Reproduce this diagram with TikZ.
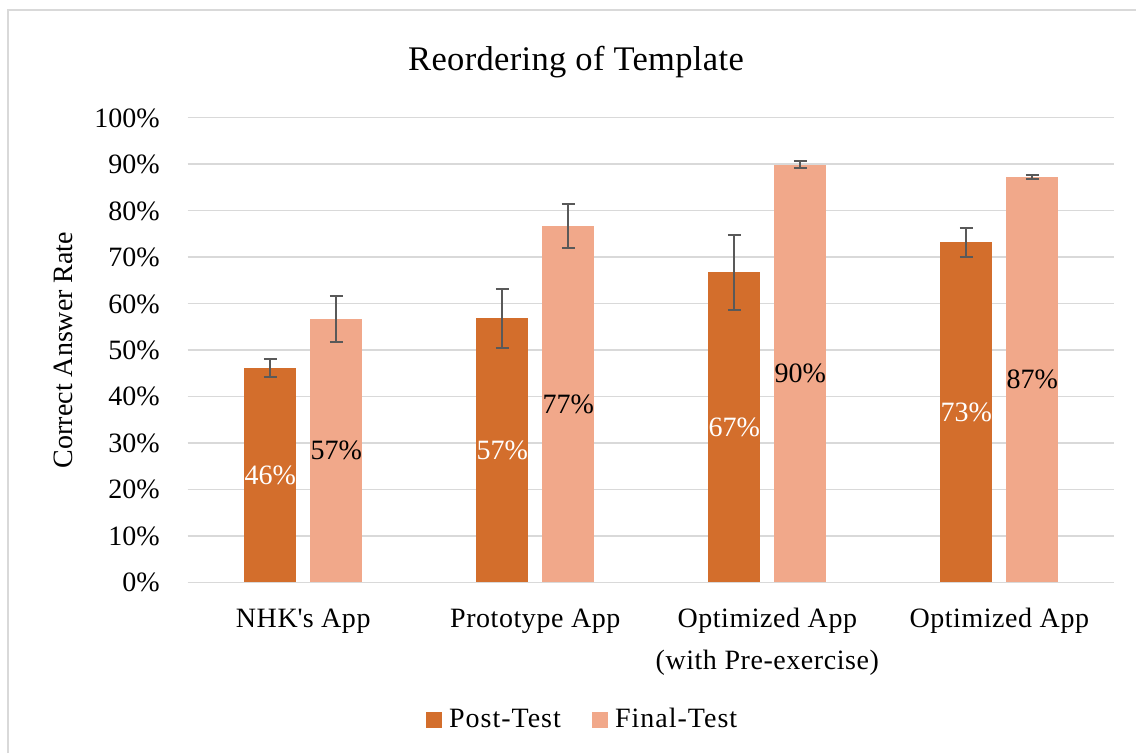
\documentclass[tikz,border=0pt]{standalone}
\usepackage{fontspec}
\setmainfont{Liberation Serif}
\definecolor{postc}{RGB}{211,110,44}
\definecolor{finalc}{RGB}{241,168,138}
\definecolor{gridc}{RGB}{217,217,217}
\definecolor{errc}{RGB}{89,89,89}
\tikzset{
  lbl/.style={font=\fontsize{28}{34}\selectfont, inner sep=0pt},
  catlbl/.style={font=\fontsize{28}{34}\selectfont\addfontfeatures{LetterSpace=2}, inner sep=0pt},
  leglbl/.style={font=\fontsize{28}{34}\selectfont\addfontfeatures{LetterSpace=3.5}, inner sep=0pt},
  titlefont/.style={font=\fontsize{34.5}{40}\selectfont\addfontfeatures{LetterSpace=1}, inner sep=0pt},
  gridline/.style={draw=gridc, line width=1.4pt},
  errbar/.style={draw=errc, line width=2pt},
  frameline/.style={draw=gridc, line width=1.5pt},
}
% value (percent) to vertical position
\newcommand{\ypos}[1]{582.3-4.646*(#1)}
\begin{document}
\begin{tikzpicture}[x=1pt,y=-1pt]
\useasboundingbox (0,0) rectangle (1136,753);
\fill[white] (0,0) rectangle (1136,753);
\draw[frameline] (8,753) -- (8,10) -- (1136,10);

% title
\node[titlefont, anchor=base] (title) at (576,70) {Reordering of Template};

% horizontal gridlines and tick labels
\foreach \v in {0,10,...,100} {
  \draw[gridline] (187.7,{\ypos{\v}}) -- (1114,{\ypos{\v}});
  \node[lbl, anchor=base east] (tick\v) at (160,{\ypos{\v}+9.5}) {\v\%};
}

% axis title
\node[lbl, rotate=90, anchor=base] (ytitle) at (72,350) {Correct Answer Rate};

% bars, error bars and value labels
\foreach \c/\pv/\pe/\pl/\fv/\fe/\fl [count=\k] in {
  303.3/46.1/2.0/46/56.6/4.95/57,
  535.3/56.8/6.3/57/76.7/4.8/77,
  767.3/66.7/8.0/67/89.9/0.8/90,
  999.3/73.2/3.1/73/87.2/0.4/87} {
  \fill[postc] ({\c-59},582.3) rectangle ({\c-7},{\ypos{\pv}});
  \fill[finalc] ({\c+7},582.3) rectangle ({\c+59},{\ypos{\fv}});
  % post-test error bar
  \draw[errbar] ({\c-33},{\ypos{\pv-\pe}}) -- ({\c-33},{\ypos{\pv+\pe}});
  \draw[errbar] ({\c-39.5},{\ypos{\pv-\pe}}) -- ({\c-26.5},{\ypos{\pv-\pe}});
  \draw[errbar] ({\c-39.5},{\ypos{\pv+\pe}}) -- ({\c-26.5},{\ypos{\pv+\pe}});
  % final-test error bar
  \draw[errbar] ({\c+33},{\ypos{\fv-\fe}}) -- ({\c+33},{\ypos{\fv+\fe}});
  \draw[errbar] ({\c+26.5},{\ypos{\fv-\fe}}) -- ({\c+39.5},{\ypos{\fv-\fe}});
  \draw[errbar] ({\c+26.5},{\ypos{\fv+\fe}}) -- ({\c+39.5},{\ypos{\fv+\fe}});
  % value labels
  \node[lbl, text=white] (pl\k) at ({\c-33},{\ypos{\pv/2}}) {\pl\%};
  \node[lbl, text=black] (fl\k) at ({\c+33},{\ypos{\fv/2}}) {\fl\%};
}

% category labels
\node[catlbl, anchor=base] (cat1) at (303.3,627) {NHK\textquotesingle s App};
\node[catlbl, anchor=base] (cat2) at (535.3,627) {Prototype App};
\node[catlbl, anchor=base] (cat3) at (767.3,627) {Optimized App};
\node[catlbl, anchor=base] (cat3b) at (767.3,669) {(with Pre-exercise)};
\node[catlbl, anchor=base] (cat4) at (999.3,627) {Optimized App};

% legend
\fill[postc] (426,712) rectangle (442,728);
\node[leglbl, anchor=base west] (legpost) at (449,727) {Post-Test};
\fill[finalc] (592,712) rectangle (608,728);
\node[leglbl, anchor=base west] (legfinal) at (615,727) {Final-Test};
\end{tikzpicture}
\end{document}
